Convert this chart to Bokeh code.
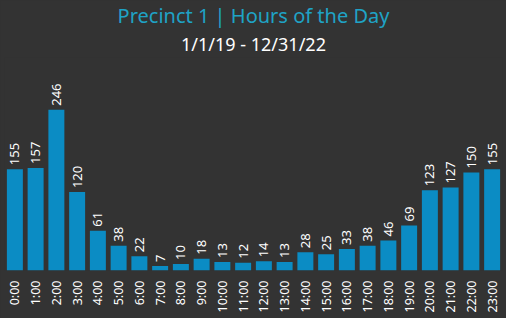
import math
from bokeh.plotting import figure
from bokeh.models import ColumnDataSource, Title, Range1d
from bokeh.core.properties import value
from bokeh.embed import file_html
from bokeh.resources import INLINE

hours = [f"{h}:00" for h in range(24)]
counts = [155, 157, 246, 120, 61, 38, 22, 7, 10, 18, 13, 12, 14, 13, 28, 25, 33, 38, 46, 69, 123, 127, 150, 155]
labels = [str(c) for c in counts]

title_text = "Precinct 1 | Hours of the Day"
subtitle_text = "1/1/19 - 12/31/22"

BG = "#333333"
BAR = "#0b8cc4"
TITLE_COLOR = "#1fa3c6"
FONT = "Noto Sans"

src = ColumnDataSource(dict(x=hours, y=counts, lab=labels))

p = figure(x_range=hours, y_range=Range1d(0, 326), width=506, height=318,
           output_backend="svg", toolbar_location=None,
           background_fill_color=None, border_fill_color=BG,
           min_border_left=4, min_border_right=4, min_border_top=0, min_border_bottom=48,
           styles={"background-color": BG})
p.outline_line_color = None

p.vbar(x="x", top="y", width=0.77, source=src, color=BAR, line_color=None)
p.text(x="x", y="y", text="lab", source=src, angle=math.pi / 2,
       text_align="left", text_baseline="middle", y_offset=-4,
       text_color="white", text_font=value(FONT), text_font_size="13px")

sub = Title(text=subtitle_text, align="center", text_color="white",
            text_font=FONT, text_font_size="18px", text_font_style="normal",
            standoff=3, offset=0)
main = Title(text=title_text, align="center", text_color=TITLE_COLOR,
             text_font=FONT, text_font_size="20px", text_font_style="normal",
             standoff=-1, offset=0)
p.add_layout(sub, "above")
p.add_layout(main, "above")

p.yaxis.visible = False
p.xgrid.visible = False
p.ygrid.visible = False
ax = p.xaxis[0]
ax.axis_line_color = None
ax.major_tick_line_color = None
ax.minor_tick_line_color = None
ax.major_label_orientation = math.pi / 2
ax.major_label_text_color = "white"
ax.major_label_text_font = FONT
ax.major_label_text_font_size = "12.5px"
ax.major_label_standoff = 4
p.x_range.range_padding = 0.0

open("out.html", "w").write(file_html(p, INLINE))
